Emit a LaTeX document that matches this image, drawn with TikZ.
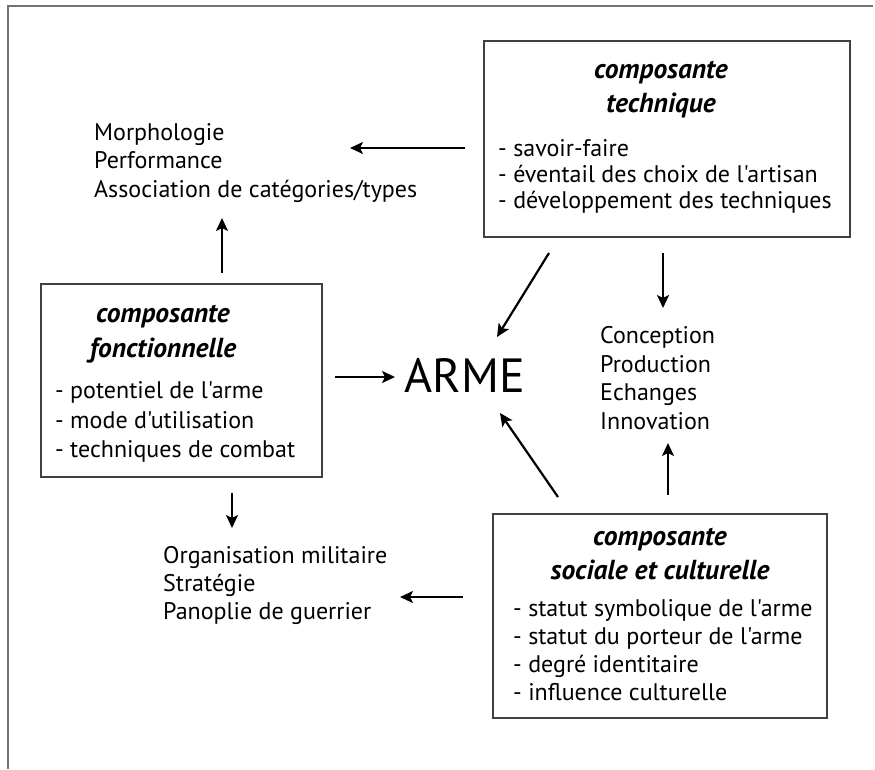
\documentclass[tikz,border=0pt]{standalone}
\usepackage{fontspec}
\setmainfont{PT Sans}[Ligatures=TeXOff]
\usetikzlibrary{arrows.meta,positioning}

\tikzset{
    cadre/.style={draw=black!75, line width=1.4pt, outer sep=0pt},
    titre/.style={font=\fontsize{27.5}{34}\selectfont\bfseries\itshape, align=center, inner sep=0pt},
    liste/.style={font=\fontsize{24}{28}\selectfont, align=left, inner sep=0pt, anchor=west},
    fleche/.style={line width=2.2pt, -{Stealth[length=13pt,width=12pt,inset=3pt]}},
}

\begin{document}
\begin{tikzpicture}[x=1pt, y=-1pt]
    \useasboundingbox (0,0) rectangle (875,769);
    % Frame
    \draw[black!55, line width=2pt] (8,769) -- (8,6) -- (873,6);

    % Boxes
    \node[cadre, anchor=north west, minimum width=366pt, minimum height=196pt] (tech) at (484,41) {};
    \node[titre] (techtitre) at (661,90) {composante\\technique};
    \node[liste, font=\fontsize{24}{26}\selectfont] (techliste) at (498,176) {- savoir-faire\\- éventail des choix de l'artisan\\- développement des techniques};

    \node[cadre, anchor=north west, minimum width=281pt, minimum height=193pt] (fonct) at (41,284) {};
    \node[titre, font=\fontsize{27.5}{35}\selectfont\bfseries\itshape] (fonctitre) at (163,334) {composante\\fonctionnelle};
    \node[liste, font=\fontsize{24}{29.5}\selectfont] (fonctliste) at (55,422) {- potentiel de l'arme\\- mode d'utilisation\\- techniques de combat};

    \node[cadre, anchor=north west, minimum width=334pt, minimum height=204pt] (social) at (493,514) {};
    \node[titre] (socialtitre) at (660,554) {composante\\sociale et culturelle};
    \node[liste] (socialliste) at (513,650) {- statut symbolique de l'arme\\- statut du porteur de l'arme\\- degré identitaire\\- influence culturelle};

    % Centre and consequences
    \node[font=\fontsize{48}{48}\selectfont, inner sep=0pt] (arme) at (465,375) {ARME};
    \node[liste, font=\fontsize{24}{28.5}\selectfont] (morpho) at (94,163) {Morphologie\\Performance\\Association de catégories/types};
    \node[liste, font=\fontsize{24}{28.7}\selectfont] (concept) at (600,378) {Conception\\Production\\Echanges\\Innovation};
    \node[liste] (orga) at (163,585) {Organisation militaire\\Stratégie\\Panoplie de guerrier};

    % Arrow ends
    \coordinate (t1) at (465,148);  \coordinate (m1) at (350,148);
    \coordinate (f1) at (222,273);  \coordinate (m2) at (222,218);
    \coordinate (f2) at (335,377);  \coordinate (a1) at (395,377);
    \coordinate (t2) at (549,253);  \coordinate (a2) at (497,337);
    \coordinate (t3) at (663,253);  \coordinate (c1) at (663,308);
    \coordinate (s1) at (558,497);  \coordinate (a3) at (500,413);
    \coordinate (s2) at (668,495);  \coordinate (c2) at (668,443);
    \coordinate (f3) at (232,493);  \coordinate (o1) at (232,528);
    \coordinate (s3) at (463,597);  \coordinate (o2) at (400,597);

    \foreach \from/\to in {t1/m1, f1/m2, f2/a1, t2/a2, t3/c1, s1/a3, s2/c2, f3/o1, s3/o2}
        \draw[fleche] (\from) -- (\to);
\end{tikzpicture}
\end{document}
